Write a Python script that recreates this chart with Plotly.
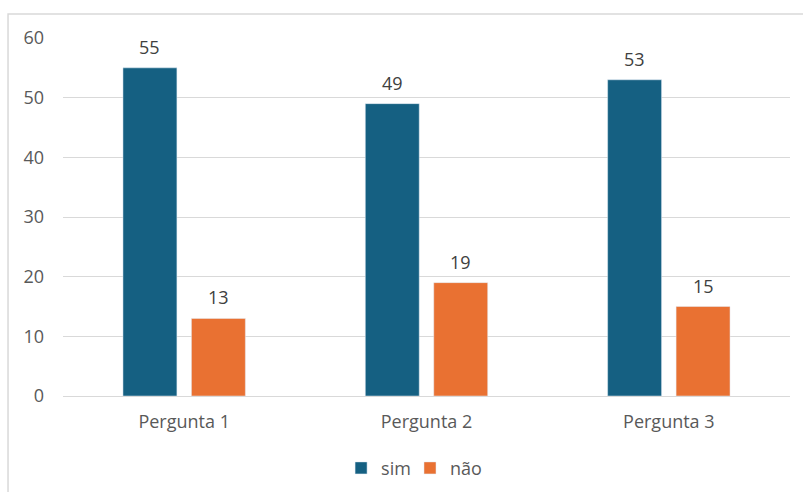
import plotly.graph_objects as go

categories = ["Pergunta 1", "Pergunta 2", "Pergunta 3"]
sim = [55, 49, 53]
nao = [13, 19, 15]
series_names = ["sim", "não"]
colors = ["#156082", "#E97132"]

FONT = "Open Sans, Inter, Liberation Sans, sans-serif"
FS = 18

fig = go.Figure()
fig.add_trace(go.Bar(x=categories, y=sim, name=series_names[0], marker_color=colors[0],
                     legend="legend"))
fig.add_trace(go.Bar(x=categories, y=nao, name=series_names[1], marker_color=colors[1],
                     legend="legend2"))

label_font = dict(family=FONT, size=FS, color="#404040")
for vals, shift in ((sim, -34.25), (nao, 34.25)):
    for c, v in zip(categories, vals):
        fig.add_annotation(x=c, y=v, text=str(v), showarrow=False, xshift=shift,
                           yanchor="bottom", yshift=7, font=label_font)

fig.add_shape(type="rect", xref="paper", yref="paper", x0=-0.0756, y0=-0.35,
              x1=1.1, y1=1.067, line=dict(color="#D9D9D9", width=1.5), layer="below")

leg_common = dict(orientation="h", y=-0.15, yanchor="top", xanchor="left",
                  bgcolor="rgba(0,0,0,0)",
                  font=dict(size=FS, color="#595959"), itemwidth=30)

fig.update_layout(
    width=803, height=492,
    margin=dict(l=63, r=13, t=38, b=96, autoexpand=False),
    paper_bgcolor="white", plot_bgcolor="white",
    barmode="group", bargap=0.435, bargroupgap=0.212,
    font=dict(family=FONT, size=FS, color="#595959"),
    showlegend=True,
    legend=dict(x=0.3825, **leg_common),
    legend2=dict(x=0.4773, **leg_common),
    xaxis=dict(showgrid=False, showline=False, ticks="", ticklabelstandoff=13, automargin=False),
    yaxis=dict(range=[0, 60], dtick=10, showgrid=True, gridcolor="#D9D9D9", gridwidth=1.3,
               zeroline=True, zerolinecolor="#D9D9D9", zerolinewidth=1.3, automargin=False,
               showline=False, ticks="", ticklabelstandoff=18),
)

fig.write_html("out.html", config={"displayModeBar": False},
               post_script="document.body.style.margin='0';document.body.style.overflow='hidden';")
